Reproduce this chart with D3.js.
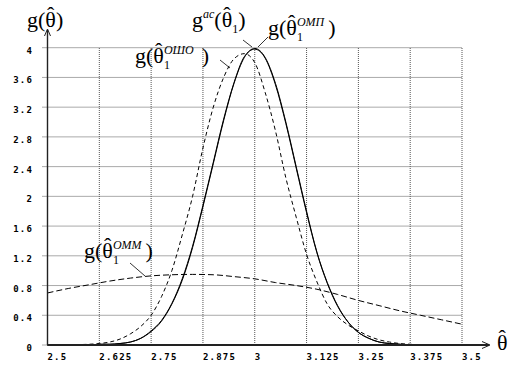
<!DOCTYPE html>
<html>
<head>
<meta charset="utf-8">
<script src="https://cdn.jsdelivr.net/npm/d3@7"></script>
<style>
  html, body { margin: 0; padding: 0; background: #fff; }
  svg { display: block; }
  .tick { font-family: "DejaVu Sans Mono", monospace; font-weight: bold; font-size: 9px; letter-spacing: 1.2px; fill: #000; }
  .lbl { font-family: "Liberation Serif", serif; fill: #000; }
</style>
</head>
<body>
<svg id="main" width="524" height="372"></svg>
<script>
// tick values
const xTicks = [2.5, 2.625, 2.75, 2.875, 3, 3.125, 3.25, 3.375, 3.5];
const xTickLabels = ["2.5", "2.625", "2.75", "2.875", "3", "3.125", "3.25", "3.375", "3.5"];
const yTicks = [0, 0.4, 0.8, 1.2, 1.6, 2, 2.4, 2.8, 3.2, 3.6, 4];
const yTickLabels = ["0", "0.4", "0.8", "1.2", "1.6", "2", "2.4", "2.8", "3.2", "3.6", "4"];

// theta points the curves were read at
const thetaFine = [2.5, 2.525, 2.55, 2.575, 2.6, 2.625, 2.65, 2.675, 2.7, 2.725, 2.75,
    2.775, 2.8, 2.825, 2.85, 2.875, 2.9, 2.925, 2.95, 2.975, 3, 3.025, 3.05, 3.075,
    3.1, 3.125, 3.15, 3.175, 3.2, 3.225, 3.25, 3.275, 3.3, 3.325, 3.35, 3.375, 3.4,
    3.425, 3.45, 3.475, 3.5];
const thetaWide = [2.5, 2.55, 2.6, 2.65, 2.7, 2.75, 2.8, 2.85, 2.9, 2.95, 3,
    3.05, 3.1, 3.15, 3.2, 3.25, 3.3, 3.35, 3.4, 3.45, 3.5];

// g^ac (solid)
const gAc = [0, 0, 0, 0, 0, 0.01, 0.01, 0.02, 0.04, 0.09, 0.18, 0.32, 0.55, 0.87, 1.31,
    1.86, 2.44, 3.02, 3.52, 3.87, 3.99, 3.87, 3.52, 3.00, 2.40, 1.80, 1.25, 0.84, 0.53,
    0.31, 0.17, 0.09, 0.04, 0.02, 0.01, 0, 0, 0, 0, 0, 0];
// g OMP (solid, almost on top of g^ac)
const gOmp = [0, 0, 0, 0, 0, 0.01, 0.01, 0.02, 0.04, 0.09, 0.19, 0.33, 0.56, 0.89, 1.33,
    1.88, 2.46, 3.04, 3.53, 3.88, 3.98, 3.86, 3.50, 2.98, 2.38, 1.78, 1.24, 0.83, 0.52,
    0.31, 0.17, 0.09, 0.04, 0.02, 0.01, 0, 0, 0, 0, 0, 0];
// g OSHO (dashed)
const gOsho = [0, 0, 0, 0.005, 0.01, 0.02, 0.04, 0.08, 0.15, 0.25, 0.40, 0.65, 1.00, 1.48,
    2.00, 2.65, 3.20, 3.60, 3.85, 3.92, 3.80, 3.40, 2.88, 2.25, 1.72, 1.22, 0.85, 0.55,
    0.38, 0.27, 0.19, 0.12, 0.07, 0.04, 0.02, 0.01, 0, 0, 0, 0, 0];
// g OMM (dashed, wide)
const gOmm = [0.70, 0.76, 0.81, 0.86, 0.90, 0.93, 0.945, 0.95, 0.945, 0.92, 0.89,
    0.84, 0.80, 0.75, 0.68, 0.60, 0.53, 0.46, 0.40, 0.34, 0.28];

/////////////////////////////////////////////////////////

const svg = d3.select("#main");

const x = d3.scaleLinear().domain([2.5, 3.5]).range([47.5, 462]);
const y = d3.scaleLinear().domain([0, 4]).range([345, 47.7]);

// grid
svg.selectAll(".hgrid")
    .data(yTicks)
    .enter()
    .append("line")
    .attr("x1", x(2.5) - 5).attr("x2", x(3.5))
    .attr("y1", d => y(d)).attr("y2", d => y(d))
    .attr("stroke", "#555").attr("stroke-width", 1)
    .attr("stroke-dasharray", "1,1");

svg.selectAll(".vgrid")
    .data(xTicks.slice(1))
    .enter()
    .append("line")
    .attr("x1", d => x(d)).attr("x2", d => x(d))
    .attr("y1", y(0)).attr("y2", y(4))
    .attr("stroke", "#555").attr("stroke-width", 1)
    .attr("stroke-dasharray", "1,1");

// tick labels
svg.selectAll(".ylab")
    .data(yTicks)
    .enter()
    .append("text")
    .attr("class", "tick")
    .attr("text-anchor", "end")
    .attr("x", 33)
    .attr("y", d => y(d) + 6)
    .text((d, i) => yTickLabels[i]);

svg.selectAll(".xlab")
    .data(xTicks)
    .enter()
    .append("text")
    .attr("class", "tick")
    .attr("x", d => x(d))
    .attr("y", 360)
    .text((d, i) => xTickLabels[i]);

// curves
const line = (xs) => d3.line()
    .x((d, i) => x(xs[i]))
    .y(d => y(d))
    .curve(d3.curveMonotoneX);

svg.append("path").attr("d", line(thetaWide)(gOmm))
    .attr("fill", "none").attr("stroke", "#000").attr("stroke-width", 1)
    .attr("stroke-dasharray", "6,3");
svg.append("path").attr("d", line(thetaFine)(gOsho))
    .attr("fill", "none").attr("stroke", "#000").attr("stroke-width", 1)
    .attr("stroke-dasharray", "4,3");
svg.append("path").attr("d", line(thetaFine)(gOmp))
    .attr("fill", "none").attr("stroke", "#000").attr("stroke-width", 1);
svg.append("path").attr("d", line(thetaFine)(gAc))
    .attr("fill", "none").attr("stroke", "#000").attr("stroke-width", 1);

// axes with arrows
svg.append("line")
    .attr("x1", x(2.5)).attr("x2", 489).attr("y1", y(0)).attr("y2", y(0))
    .attr("stroke", "#222").attr("stroke-width", 2);
svg.append("path").attr("d", "M482,341.5L490,345L482,348.5")
    .attr("fill", "none").attr("stroke", "#222").attr("stroke-width", 1);
svg.append("line")
    .attr("x1", x(2.5)).attr("x2", x(2.5)).attr("y1", y(0)).attr("y2", 30)
    .attr("stroke", "#222").attr("stroke-width", 1.4);
svg.append("path").attr("d", "M44.5,36L47.5,29L50.5,36")
    .attr("fill", "none").attr("stroke", "#222").attr("stroke-width", 1);

// formula labels: one text per formula, tspans placed glyph group by group
function formula(x0, y0, parts) {
    const txt = svg.append("text").attr("class", "lbl");
    let cx = x0, subX = null, subEnd = 0;
    parts.forEach(p => {
        const small = p.sub || p.sup;
        const t = txt.append("tspan")
            .attr("font-size", small ? 12 : 22)
            .attr("font-style", p.it ? "italic" : "normal")
            .attr("x", small && subX !== null ? subX : cx)
            .attr("y", y0 + (p.sub ? 6 : p.sup ? -9 : 0))
            .text(p.t);
        const w = t.node().getComputedTextLength();
        if (p.hat) {
            txt.append("tspan")
                .attr("font-size", 22)
                .attr("text-anchor", "middle")
                .attr("x", cx + w / 2).attr("y", y0 - 5)
                .text("ˆ");
        }
        if (small) {
            if (subX === null) subX = cx;
            subEnd = Math.max(subEnd, subX + w);
            cx = subEnd;
        } else {
            subX = null; subEnd = 0;
            cx += w;
        }
        if (p.gap) cx += p.gap;
    });
}

formula(27, 27, [{ t: "g" }, { t: "(" }, { t: "θ", hat: true }, { t: ")" }]);
formula(192, 27, [{ t: "g" }, { t: "ac", sup: true, it: true }, { t: "(" },
    { t: "θ", hat: true }, { t: "1", sub: true }, { t: ")", }]);
formula(268, 35, [{ t: "g" }, { t: "(" }, { t: "θ", hat: true }, { t: "1", sub: true },
    { t: "ОМП", sup: true, it: true, gap: 4 }, { t: ")" }]);
formula(135, 63, [{ t: "g" }, { t: "(" }, { t: "θ", hat: true }, { t: "1", sub: true },
    { t: "ОШО", sup: true, it: true, gap: 8 }, { t: ")" }]);
formula(84, 258, [{ t: "g" }, { t: "(" }, { t: "θ", hat: true }, { t: "1", sub: true },
    { t: "ОММ", sup: true, it: true, gap: 4 }, { t: ")" }]);
formula(497, 350, [{ t: "θ", hat: true }]);

// leader lines
const leaders = [[130, 263, 145, 276], [220, 60, 230, 68], [243, 40, 252, 47], [268, 37, 258, 47]];
svg.selectAll(".leader")
    .data(leaders)
    .enter()
    .append("line")
    .attr("x1", d => d[0]).attr("y1", d => d[1])
    .attr("x2", d => d[2]).attr("y2", d => d[3])
    .attr("stroke", "#000").attr("stroke-width", 0.8);
</script>
</body>
</html>
